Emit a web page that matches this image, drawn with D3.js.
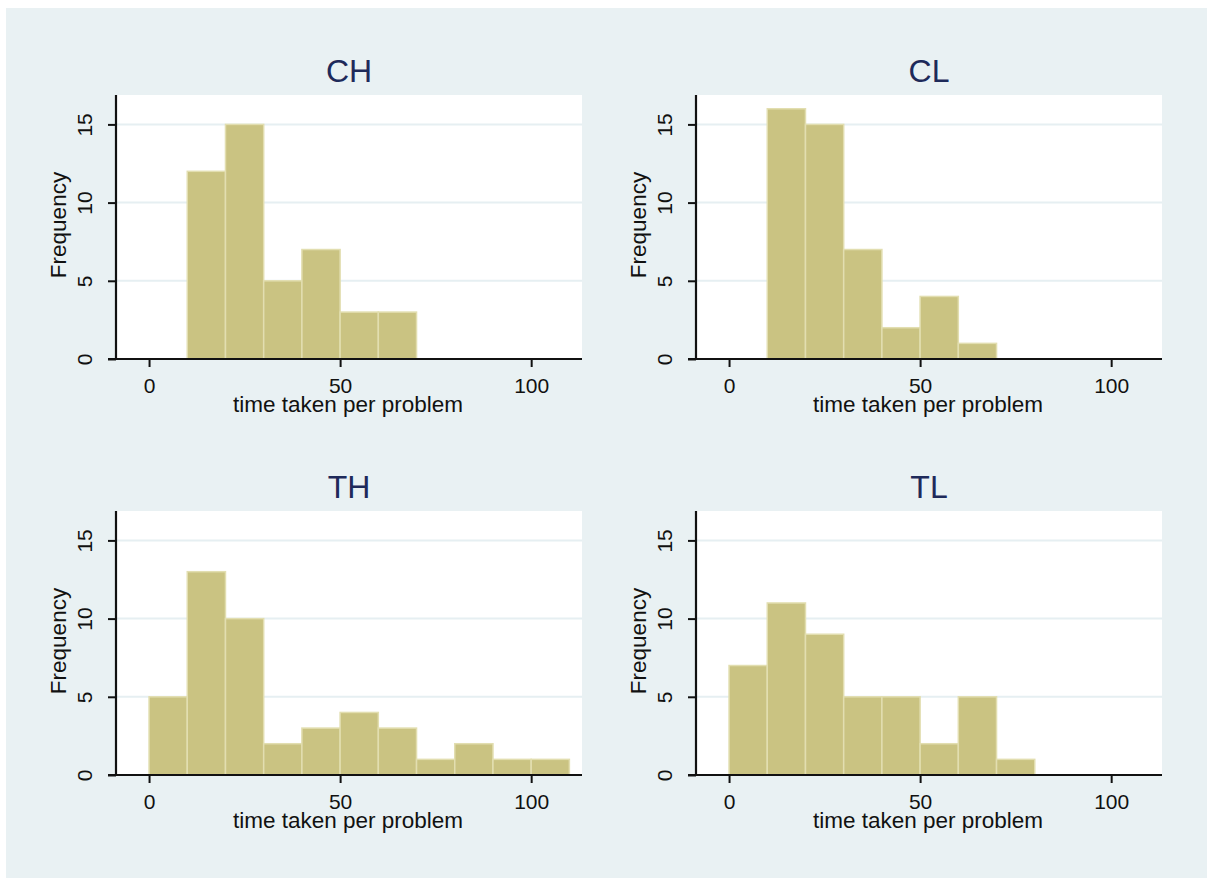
<!DOCTYPE html>
<html><head><meta charset="utf-8">
<script src="https://cdn.jsdelivr.net/npm/d3@7"></script>
<style>body{margin:0;background:#fff;}svg{display:block;}text{font-family:"Liberation Sans",Arial,sans-serif;}</style>
</head><body>
<script>
const panelNames = ["CH", "CL", "TH", "TL"];
const binStarts = [0, 10, 20, 30, 40, 50, 60, 70, 80, 90, 100];
const binWidth = 10;
const freqCH = [0, 12, 15, 5, 7, 3, 3, 0, 0, 0, 0];
const freqCL = [0, 16, 15, 7, 2, 4, 1, 0, 0, 0, 0];
const freqTH = [5, 13, 10, 2, 3, 4, 3, 1, 2, 1, 1];
const freqTL = [7, 11, 9, 5, 5, 2, 5, 1, 0, 0, 0];
const xTicks = [0, 50, 100];
const yTicks = [0, 5, 10, 15];
const xTitle = "time taken per problem";
const yTitle = "Frequency";

const series = [freqCH, freqCL, freqTH, freqTL];
const W = 1207, H = 878;
const svg = d3.select("body").append("svg").attr("width", W).attr("height", H);
svg.append("rect").attr("x", 6).attr("y", 8).attr("width", W - 6).attr("height", H - 8).attr("fill", "#e9f1f3");

const plotW = 466, plotH = 264;
const origins = [[116, 95], [696, 95], [116, 511], [696, 511]];

panelNames.forEach((name, i) => {
  const [ox, oy] = origins[i];
  const g = svg.append("g").attr("transform", `translate(${ox},${oy})`);
  const x = d3.scaleLinear().domain([-8.65, 113.3]).range([0, plotW]);
  const y = d3.scaleLinear().domain([0, 16.88]).range([plotH, 0]);
  g.append("rect").attr("width", plotW).attr("height", plotH).attr("fill", "#ffffff");
  // gridlines
  g.selectAll(".grid").data(yTicks.filter(d => d > 0)).enter().append("line")
    .attr("x1", 0).attr("x2", plotW).attr("y1", d => y(d)).attr("y2", d => y(d))
    .attr("stroke", "#e6eff2").attr("stroke-width", 2);
  // bars
  const data = binStarts.map((b, k) => ({b, v: series[i][k]})).filter(d => d.v > 0);
  g.selectAll(".bar").data(data).enter().append("rect")
    .attr("x", d => x(d.b)).attr("width", d => x(d.b + binWidth) - x(d.b))
    .attr("y", d => y(d.v)).attr("height", d => y(0) - y(d.v))
    .attr("fill", "#cac382").attr("stroke", "#e2deb0").attr("stroke-width", 1.5);
  // axes
  const xa = g.append("g").attr("transform", `translate(0,${plotH})`)
    .call(d3.axisBottom(x).tickValues(xTicks).tickSize(8).tickPadding(4).tickFormat(d3.format("d")));
  xa.select(".domain").remove();
  xa.append("line").attr("x1", -8).attr("x2", plotW).attr("y1", 0).attr("y2", 0).attr("stroke", "#111").attr("stroke-width", 2.2);
  xa.selectAll(".tick line").attr("stroke", "#111").attr("stroke-width", 2);
  xa.selectAll(".tick text").attr("font-size", 21).attr("fill", "#111").attr("dy", null).attr("y", 34);
  const ya = g.append("g")
    .call(d3.axisLeft(y).tickValues(yTicks).tickSize(8).tickFormat(d3.format("d")));
  ya.select(".domain").remove();
  ya.append("line").attr("x1", 0).attr("x2", 0).attr("y1", 0).attr("y2", plotH + 1).attr("stroke", "#111").attr("stroke-width", 2.2);
  ya.selectAll(".tick line").attr("stroke", "#111").attr("stroke-width", 2);
  ya.selectAll(".tick text").attr("font-size", 21).attr("fill", "#111")
    .attr("x", null).attr("dy", null).attr("text-anchor", "middle")
    .attr("transform", "translate(-24,0) rotate(-90)");
  // titles
  g.append("text").attr("x", plotW / 2).attr("y", -13).attr("text-anchor", "middle")
    .attr("font-size", 32).attr("fill", "#1e2a5a").text(name);
  g.append("text").attr("x", plotW / 2 - 1).attr("y", plotH + 53).attr("text-anchor", "middle")
    .attr("font-size", 22.5).attr("fill", "#111").text(xTitle);
  g.append("text").attr("transform", `translate(-50,${plotH / 2 - 2}) rotate(-90)`).attr("text-anchor", "middle")
    .attr("font-size", 22.5).attr("fill", "#111").text(yTitle);
});
</script>
</body></html>
